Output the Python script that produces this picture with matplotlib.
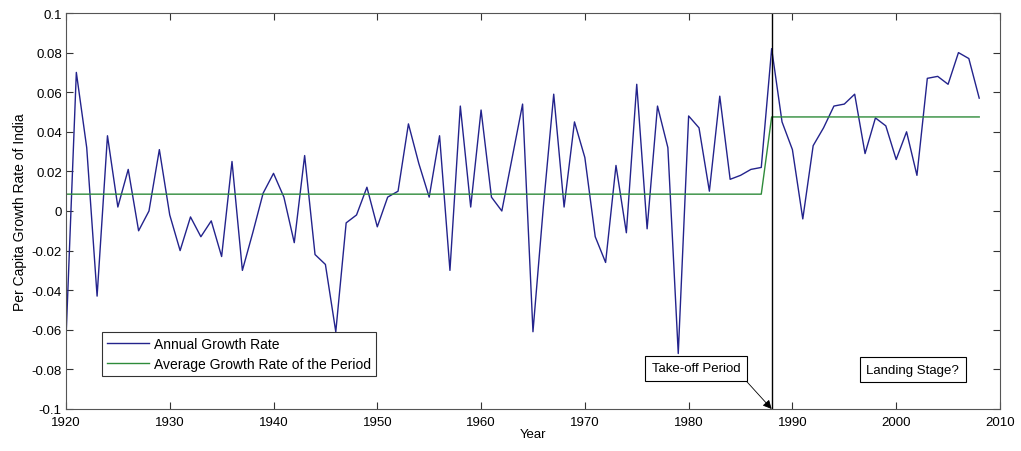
import numpy as np
import matplotlib
matplotlib.use("Agg")
import matplotlib.pyplot as plt

plt.rcParams["font.family"] = ["Liberation Sans", "DejaVu Sans"]

years = list(range(1920, 2009))
growth = [
    -0.065, 0.070, 0.032, -0.043, 0.038, 0.002, 0.021, -0.010, 0.000, 0.031,   # 1920s
    -0.002, -0.020, -0.003, -0.013, -0.005, -0.023, 0.025, -0.030, -0.011, 0.009,  # 1930s
    0.019, 0.007, -0.016, 0.028, -0.022, -0.027, -0.061, -0.006, -0.002, 0.012,  # 1940s
    -0.008, 0.007, 0.010, 0.044, 0.024, 0.007, 0.038, -0.030, 0.053, 0.002,   # 1950s
    0.051, 0.007, 0.000, 0.027, 0.054, -0.061, 0.002, 0.059, 0.002, 0.045,    # 1960s
    0.027, -0.013, -0.026, 0.023, -0.011, 0.064, -0.009, 0.053, 0.032, -0.072,  # 1970s
    0.048, 0.042, 0.010, 0.058, 0.016, 0.018, 0.021, 0.022, 0.082, 0.045,     # 1980s
    0.031, -0.004, 0.033, 0.042, 0.053, 0.054, 0.059, 0.029, 0.047, 0.043,    # 1990s
    0.026, 0.040, 0.018, 0.067, 0.068, 0.064, 0.080, 0.077, 0.057,           # 2000s
]
avg_before, avg_after = 0.0085, 0.0475
takeoff_year = 1988
average = [avg_before if y < takeoff_year else avg_after for y in years]

C_BLUE, C_GREEN = "#23238c", "#2e8b3a"

fig = plt.figure(figsize=(10.21, 4.52), dpi=100)
ax = fig.add_axes([0.0646, 0.093, 0.9148, 0.876])

ax.plot(years, growth, color=C_BLUE, lw=1.0, label="Annual Growth Rate")
ax.plot(years, average, color=C_GREEN, lw=1.0,
        label="Average Growth Rate of the Period")
ax.axvline(takeoff_year, color="black", lw=1.0)

ax.set_xlim(1920, 2010)
ax.set_ylim(-0.1, 0.1)
ax.set_xticks(range(1920, 2011, 10))
yt = np.round(np.arange(-0.1, 0.1001, 0.02), 2)
ax.set_yticks(yt)
ax.set_yticklabels(["%g" % v for v in yt])
ax.tick_params(direction="in", top=True, right=True, length=5,
               labelsize=9.5, color="#333333", pad=3)
ax.tick_params(axis="x", pad=5)
for s in ax.spines.values():
    s.set_color("#555555")

ax.set_xlabel("Year", fontsize=9.5, labelpad=0)
ax.set_ylabel("Per Capita Growth Rate of India", fontsize=10, labelpad=3)

leg = ax.legend(loc="upper left", bbox_to_anchor=(0.039, 0.194), fontsize=10,
                frameon=True, fancybox=False, borderaxespad=0,
                handlelength=3.0, handletextpad=0.4, borderpad=0.35,
                labelspacing=0.45)
leg.get_frame().set_edgecolor("black")
leg.get_frame().set_linewidth(0.8)

box = dict(boxstyle="square,pad=0.5", fc="white", ec="black", lw=0.8)
ax.annotate("Take-off Period", xy=(takeoff_year, -0.1), xytext=(1980.7, -0.0795),
            ha="center", va="center", fontsize=9.5, bbox=box,
            arrowprops=dict(arrowstyle="-|>", color="black", lw=0.6,
                            mutation_scale=13, shrinkA=0, shrinkB=0,
                            relpos=(1.0, 0.0)))
ax.text(2001.6, -0.0802, "Landing Stage?", ha="center", va="center",
        fontsize=9.5, bbox=box)

fig.savefig("out.png", dpi=100, facecolor="white")
